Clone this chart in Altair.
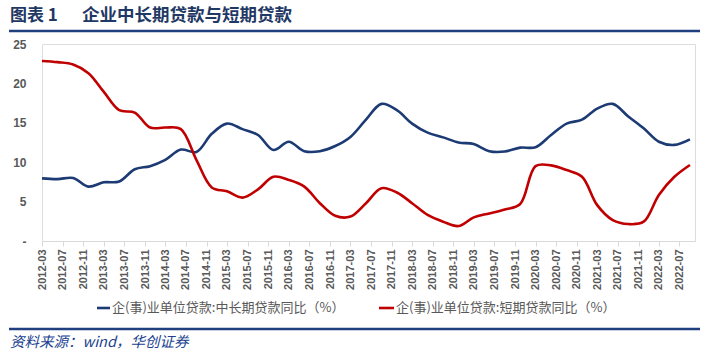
import altair as alt
import pandas as pd

# ---- data (quarterly) ----
quarters = pd.date_range("2012-03-01", "2022-09-01", freq="3MS").strftime("%Y-%m-%d").tolist()

mid_long = [7.95, 7.85, 8.0, 6.9, 7.45, 7.55, 9.1, 9.5, 10.3, 11.6, 11.3, 13.6, 14.9, 14.2,
            13.45, 11.55, 12.6, 11.4, 11.4, 12.05, 13.2, 15.4, 17.4, 16.6, 14.9, 13.75,
            13.15, 12.5, 12.3, 11.4, 11.35, 11.85, 11.9, 13.45, 14.9, 15.4, 16.8, 17.4,
            15.8, 14.3, 12.6, 12.2, 12.9]
short = [22.85, 22.7, 22.4, 21.3, 18.95, 16.6, 16.3, 14.4, 14.4, 14.2, 10.3, 6.8, 6.3, 5.5,
         6.55, 8.15, 7.75, 6.9, 4.8, 3.2, 3.1, 4.8, 6.7, 6.15, 4.8, 3.3, 2.45, 1.9, 3.0,
         3.5, 4.0, 4.7, 9.5, 9.6, 9.0, 8.15, 4.55, 2.65, 2.15, 2.45, 5.85, 8.15, 9.65]

series_names = ["企(事)业单位贷款:中长期贷款同比（%）", "企(事)业单位贷款:短期贷款同比（%）"]
series_colors = ["#1c3a73", "#c00000"]

tick_months = pd.date_range("2012-03-01", "2022-07-01", freq="4MS")
tick_values = [int(t.value // 10**6) for t in tick_months]
y_ticks = [0, 5, 10, 15, 20, 25]

title_prefix = "图表 1"
title_text = "企业中长期贷款与短期贷款"
source_text = "资料来源：wind，华创证券"

df = pd.DataFrame({
    "date": quarters * 2,
    "value": mid_long + short,
    "series": [series_names[0]] * len(quarters) + [series_names[1]] * len(quarters),
})

x_domain = [int(pd.Timestamp("2012-03-01").value // 10**6), int(pd.Timestamp("2022-10-01").value // 10**6)]

lines = alt.Chart(df).mark_line(strokeWidth=2.6, interpolate="catmull-rom").encode(
    x=alt.X("date:T",
            scale=alt.Scale(type="utc", domain=x_domain),
            axis=alt.Axis(values=tick_values, labelExpr="utcFormat(datum.value, '%Y-%m')",
                          labelAngle=-90, labelFontSize=11, labelFont="Liberation Sans",
                          labelColor="#595959", labelFontWeight="bold",
                          domainColor="#d9d9d9", tickColor="#d9d9d9", tickSize=5,
                          labelPadding=3, grid=False, title=None, labelOverlap=False)),
    y=alt.Y("value:Q",
            scale=alt.Scale(domain=[0, 25], nice=False),
            axis=alt.Axis(values=y_ticks, labelExpr="datum.value == 0 ? '-' : datum.label",
                          labelFontSize=12, labelFont="Liberation Sans", labelColor="#595959",
                          labelFontWeight="bold", domain=False, ticks=False, grid=False,
                          labelPadding=16, title=None)),
    color=alt.Color("series:N", scale=alt.Scale(domain=series_names, range=series_colors),
                    legend=None),
)

one = pd.DataFrame({"k": [0]})

def rule(x1, x2, y, color, w):
    return alt.Chart(one).mark_rule(color=color, strokeWidth=w).encode(
        x=alt.value(x1), x2=alt.value(x2), y=alt.value(y))

def text(t, x, y, **kw):
    return alt.Chart(one).mark_text(align="left", baseline="middle", **kw).encode(
        x=alt.value(x), y=alt.value(y), text=alt.value(t))

deco = [
    text(title_prefix, -32, -28, font="Noto Sans CJK SC", fontSize=17, fontWeight="bold", color="#1f3864"),
    text(title_text, 40, -28, font="Noto Sans CJK SC", fontSize=17.5, fontWeight="bold", color="#1f3864"),
    rule(-33, 658, -13, "#1f3f7f", 2.5),
    rule(-33, 658, 285, "#1f3f7f", 2.5),
    text(source_text, -32, 299, font="Noto Sans CJK SC", fontSize=14.5, fontStyle="italic", color="#203f8f"),
    # legend
    rule(55, 68, 264, series_colors[0], 2.6),
    text(series_names[0], 70, 264, font="Noto Sans CJK SC", fontSize=13, color="#595959"),
    rule(337, 352, 264, series_colors[1], 2.6),
    text(series_names[1], 354, 264, font="Noto Sans CJK SC", fontSize=13, color="#595959"),
]

chart = alt.layer(lines, *deco).properties(
    width=653, height=197,
    padding={"left": 42, "top": 44, "right": 15, "bottom": 114},
    autosize=alt.AutoSizeParams(type="none"),
).configure_view(stroke=None).configure(background="white")

chart.save("out.html", embed_options={"renderer": "svg", "actions": False})
